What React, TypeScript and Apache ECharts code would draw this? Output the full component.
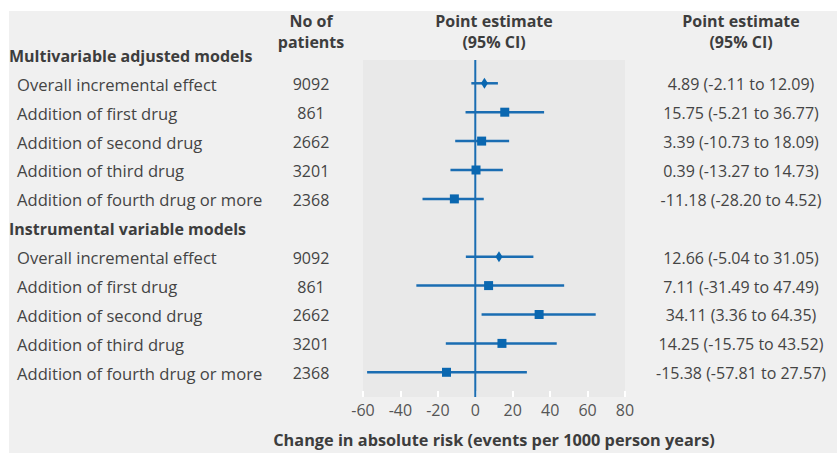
import React, { useEffect, useRef } from "react";
import * as echarts from "echarts";

const groupTitles = ["Multivariable adjusted models", "Instrumental variable models"];
const rowLabels = [
  "Overall incremental effect",
  "Addition of first drug",
  "Addition of second drug",
  "Addition of third drug",
  "Addition of fourth drug or more",
];
const patients = [9092, 861, 2662, 3201, 2368];

const maEst = [4.89, 15.75, 3.39, 0.39, -11.18];
const maLow = [-2.11, -5.21, -10.73, -13.27, -28.2];
const maHigh = [12.09, 36.77, 18.09, 14.73, 4.52];

const ivEst = [12.66, 7.11, 34.11, 14.25, -15.38];
const ivLow = [-5.04, -31.49, 3.36, -15.75, -57.81];
const ivHigh = [31.05, 47.49, 64.35, 43.52, 27.57];

const xTicks = [-60, -40, -20, 0, 20, 40, 60, 80];

const FONT = "'Open Sans'";
const BLUE = "#1a6db2";

export default function App() {
  const ref = useRef<HTMLDivElement>(null);
  useEffect(() => {
    const chart = echarts.init(ref.current!, null, { renderer: "svg" });

    const groups = [
      { est: maEst, low: maLow, high: maHigh },
      { est: ivEst, low: ivLow, high: ivHigh },
    ];
    const data: any[] = [];
    groups.forEach((g, gi) => {
      g.est.forEach((v, k) => {
        const row = gi * 6 + 1 + k;
        data.push([v, g.low[k], g.high[k], row, k === 0 ? 1 : 0]);
      });
    });

    chart.setOption({
      animation: false,
      backgroundColor: "#f0f0f0",
      grid: {
        left: 363,
        top: 60,
        width: 262,
        height: 337,
        show: true,
        backgroundColor: "#e9e9e9",
        borderWidth: 0,
      },
      xAxis: {
        type: "value",
        min: -60,
        max: 80,
        interval: 20,
        axisLine: { show: false },
        splitLine: { show: false },
        axisTick: { show: true, inside: true, length: 6, lineStyle: { color: "#ffffff", width: 2 } },
        axisLabel: {
          color: "#555",
          fontSize: 16,
          fontFamily: "Open Sans",
          margin: 5,
          customValues: xTicks,
        },
      },
      yAxis: {
        type: "value",
        inverse: true,
        min: 0.194,
        max: 11.855,
        show: false,
      },
      series: [
        {
          type: "line",
          data: [[0, 0.194], [0, 11.855]],
          showSymbol: false,
          symbol: "none",
          lineStyle: { color: BLUE, width: 2 },
          z: 2,
        },
        {
          type: "custom",
          data,
          z: 3,
          renderItem: (params: any, api: any) => {
            const est = api.value(0);
            const lo = api.value(1);
            const hi = api.value(2);
            const row = api.value(3);
            const diamond = api.value(4) === 1;
            const p = api.coord([est, row]);
            const pl = api.coord([lo, row]);
            const ph = api.coord([hi, row]);
            const children: any[] = [
              {
                type: "line",
                shape: { x1: pl[0], y1: pl[1], x2: ph[0], y2: ph[1] },
                style: { stroke: BLUE, lineWidth: 2.5 },
              },
            ];
            if (diamond) {
              children.push({
                type: "polygon",
                shape: {
                  points: [
                    [p[0], p[1] - 5.5],
                    [p[0] + 3.5, p[1]],
                    [p[0], p[1] + 5.5],
                    [p[0] - 3.5, p[1]],
                  ],
                },
                style: { fill: "#0a67b0" },
              });
            } else {
              children.push({
                type: "rect",
                shape: { x: p[0] - 4.5, y: p[1] - 4.5, width: 9, height: 9 },
                style: { fill: "#0a67b0" },
              });
            }
            return { type: "group", children };
          },
        },
      ],
    });

    const yOf = (row: number) => chart.convertToPixel({ yAxisIndex: 0 }, row) as number;
    const elements: any[] = [
      { type: "rect", shape: { x: 0, y: 0, width: 838, height: 11 }, style: { fill: "#ffffff" }, z: 10 },
      { type: "rect", shape: { x: 0, y: 0, width: 9, height: 453 }, style: { fill: "#ffffff" }, z: 10 },
      { type: "rect", shape: { x: 837, y: 0, width: 1, height: 453 }, style: { fill: "#ffffff" }, z: 10 },
    ];
    const txt = (text: string, x: number, y: number, align: string, bold: boolean, color: string, size = 16) => ({
      type: "text",
      x,
      y,
      z: 20,
      style: {
        text,
        fill: color,
        font: `${bold ? "bold " : ""}${size}px ${FONT}`,
        align,
        verticalAlign: "middle",
      },
    });
    elements.push(txt("No of", 311, 21, "center", true, "#3d3d3d"));
    elements.push(txt("patients", 311, 42, "center", true, "#3d3d3d"));
    elements.push(txt("Point estimate", 494, 21, "center", true, "#3d3d3d"));
    elements.push(txt("(95% CI)", 494, 42, "center", true, "#3d3d3d"));
    elements.push(txt("Point estimate", 741, 21, "center", true, "#3d3d3d"));
    elements.push(txt("(95% CI)", 741, 42, "center", true, "#3d3d3d"));

    groups.forEach((g, gi) => {
      const hy = yOf(gi * 6) + 1.5;
      elements.push(txt(groupTitles[gi], 9, hy, "left", true, "#3d3d3d"));
      rowLabels.forEach((lab, k) => {
        const y = yOf(gi * 6 + 1 + k) + 1;
        elements.push(txt(lab, 17, y, "left", false, "#444", 16.6));
        elements.push(txt(String(patients[k]), 311, y, "center", false, "#444"));
        const ci = `${g.est[k].toFixed(2)} (${g.low[k].toFixed(2)} to ${g.high[k].toFixed(2)})`;
        elements.push(txt(ci, 741, y, "center", false, "#444"));
      });
    });
    elements.push(
      txt("Change in absolute risk (events per 1000 person years)", 494, 440, "center", true, "#3d3d3d", 16.3)
    );

    chart.setOption({ graphic: { elements } });

    return () => chart.dispose();
  }, []);
  return (
    <div
      ref={ref}
      style={{ position: "absolute", left: 0, top: 0, width: 838, height: 453 }}
    />
  );
}
